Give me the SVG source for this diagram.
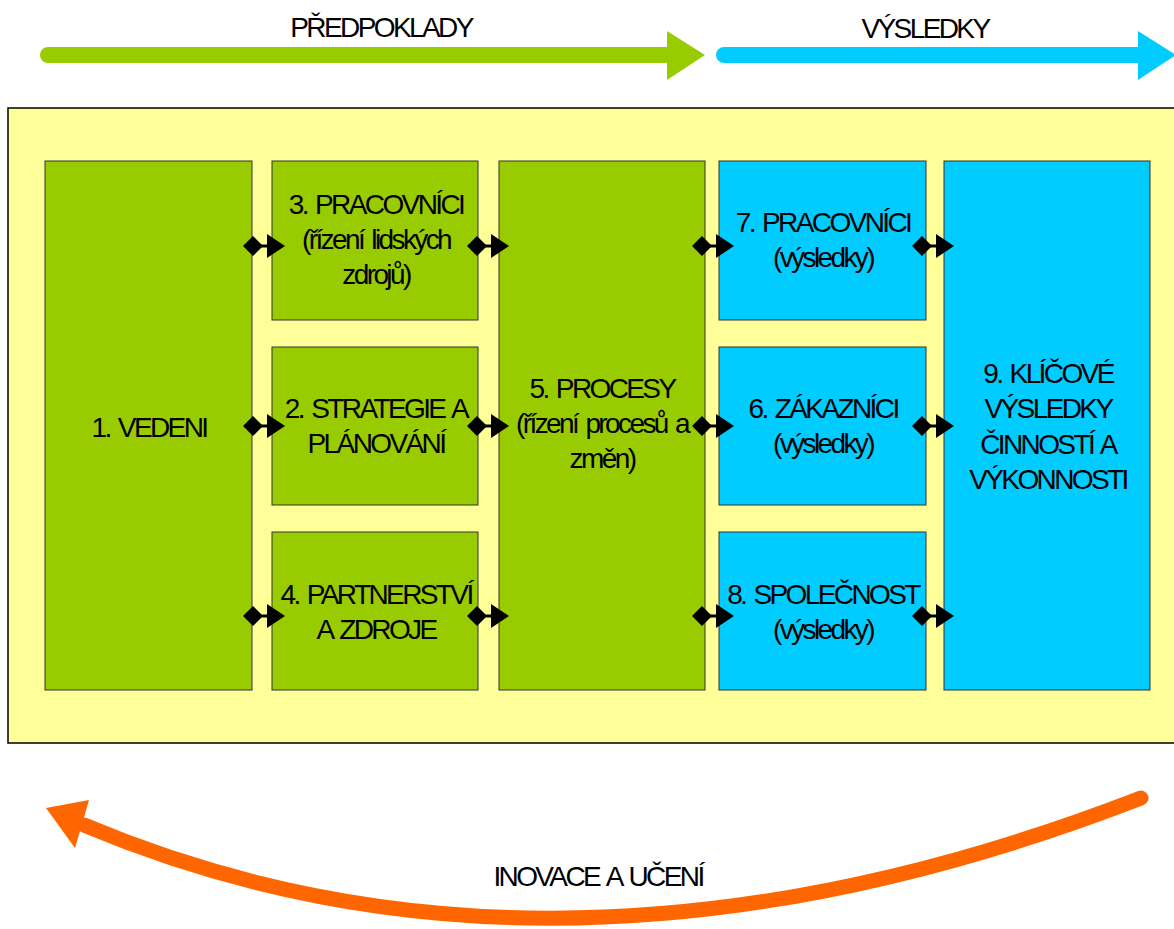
<svg xmlns="http://www.w3.org/2000/svg" width="1174" height="929" viewBox="0 0 1174 929">
<style>
text{font-family:"Liberation Sans",Arial,sans-serif;font-size:28px;letter-spacing:-2.6px;word-spacing:3px;fill:#000;text-anchor:middle}
.g{fill:#99CC00;stroke:#333;stroke-width:1}
.c{fill:#00CCFF;stroke:#333;stroke-width:1}
.ah{fill:#000}
</style>
<defs>
<g id="dbl">
<polygon class="ah" points="0,0 10,-10 20,0 10,10"/>
<line x1="8" y1="0" x2="28" y2="0" stroke="#000" stroke-width="3"/>
<polygon class="ah" points="24,-12 42,0 24,12"/>
</g>
</defs>
<rect width="1174" height="929" fill="#fff"/>
<g id="top-arrows">
<rect x="40" y="47" width="640" height="16" rx="8" fill="#99CC00"/>
<polygon points="667,31 705,55 667,80" fill="#99CC00"/>
<rect x="716" y="47" width="434" height="16" rx="8" fill="#00CCFF"/>
<polygon points="1138,31 1176,55 1138,80" fill="#00CCFF"/>
<text x="381" y="37">PŘEDPOKLADY</text>
<text x="925" y="38">VÝSLEDKY</text>
</g>
<rect id="background" x="8" y="108" width="1180" height="635" fill="#FFFF99" stroke="#000" stroke-width="1.5"/>
<g id="n1"><rect class="g" x="45" y="161" width="207" height="529"/><text x="149" y="437">1. VEDENI</text></g>
<g id="n3"><rect class="g" x="272" y="161" width="206" height="159"/><text x="376" y="214">3. PRACOVNÍCI</text><text x="376" y="249">(řízení lidských</text><text x="376" y="284">zdrojů)</text></g>
<g id="n2"><rect class="g" x="272" y="347" width="206" height="158"/><text x="376" y="418">2. STRATEGIE A</text><text x="376" y="453">PLÁNOVÁNÍ</text></g>
<g id="n4"><rect class="g" x="272" y="532" width="206" height="158"/><text x="376" y="604">4. PARTNERSTVÍ</text><text x="376" y="639">A ZDROJE</text></g>
<g id="n5"><rect class="g" x="499" y="161" width="206" height="529"/><text x="602" y="398">5. PROCESY</text><text x="602" y="433">(řízení procesů a</text><text x="602" y="468">změn)</text></g>
<g id="n7"><rect class="c" x="719" y="161" width="207" height="159"/><text x="823" y="232">7. PRACOVNÍCI</text><text x="823" y="267">(výsledky)</text></g>
<g id="n6"><rect class="c" x="719" y="347" width="207" height="158"/><text x="823" y="418">6. ZÁKAZNÍCI</text><text x="823" y="453">(výsledky)</text></g>
<g id="n8"><rect class="c" x="719" y="532" width="207" height="158"/><text x="823" y="604">8. SPOLEČNOST</text><text x="823" y="639">(výsledky)</text></g>
<g id="n9"><rect class="c" x="944" y="161" width="206" height="529"/><text x="1048" y="383">9. KLÍČOVÉ</text><text x="1048" y="418">VÝSLEDKY</text><text x="1048" y="454">ČINNOSTÍ A</text><text x="1048" y="489">VÝKONNOSTI</text></g>
<g id="connectors">
<use href="#dbl" x="243" y="246"/><use href="#dbl" x="243" y="426"/><use href="#dbl" x="243" y="616"/>
<use href="#dbl" x="467" y="246"/><use href="#dbl" x="467" y="426"/><use href="#dbl" x="467" y="616"/>
<use href="#dbl" x="692" y="246"/><use href="#dbl" x="692" y="426"/><use href="#dbl" x="692" y="616"/>
<use href="#dbl" x="912" y="246"/><use href="#dbl" x="912" y="426"/><use href="#dbl" x="912" y="616"/>
</g>
<g id="cycle">
<path d="M1141,798 Q557,1024 84,825" fill="none" stroke="#FF6600" stroke-width="15" stroke-linecap="round"/>
<polygon points="46,808 89,800 75,848" fill="#FF6600"/>
<text x="598" y="886">INOVACE A UČENÍ</text>
</g>
</svg>
